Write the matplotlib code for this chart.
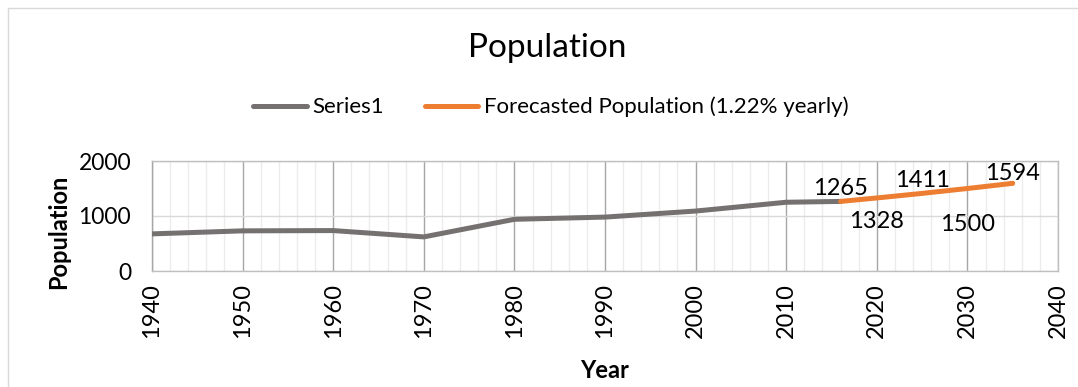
import matplotlib
matplotlib.use("Agg")
import matplotlib.pyplot as plt
from matplotlib.patches import Rectangle
from matplotlib.ticker import MultipleLocator

plt.rcParams['font.family'] = ['Lato', 'DejaVu Sans']

# Historical population
years = [1940, 1950, 1960, 1970, 1980, 1990, 2000, 2010, 2016]
population = [675, 730, 735, 620, 940, 980, 1090, 1250, 1265]

# Forecast at 1.22% yearly growth
forecast_years = [2016, 2020, 2025, 2030, 2035]
forecast_values = [1265, 1328, 1411, 1500, 1594]

x_ticks = [1940, 1950, 1960, 1970, 1980, 1990, 2000, 2010, 2020, 2030, 2040]
y_ticks = [0, 1000, 2000]

# vertical offsets (points) of each data label centre from its point
label_dy = [9, -17, 9, -26, 7]

W, H = 1078, 387
fig = plt.figure(figsize=(W / 100, H / 100), dpi=100)
ax = fig.add_axes([152 / W, 1 - 271 / H, (1058 - 152) / W, (271 - 161) / H])

# outer chart border
fig.patches.append(Rectangle((7.5 / W, -0.1), 1.2, 1 - 8 / H + 0.1,
                             transform=fig.transFigure, fill=False,
                             edgecolor='#d9d9d9', linewidth=1.0))

gray = '#767171'
orange = '#ED7D31'

ax.plot(years, population, color=gray, linewidth=3.6, solid_capstyle='round',
        label='Series1', zorder=3)
ax.plot(forecast_years, forecast_values, color=orange, linewidth=3.6,
        solid_capstyle='round', label='Forecasted Population (1.22% yearly)', zorder=4)

for x, v, dy in zip(forecast_years, forecast_values, label_dy):
    ax.annotate(str(v), (x, v), xytext=(0, dy), textcoords='offset points',
                ha='center', va='center', fontsize=17, color='black', zorder=5)

ax.set_xlim(1940, 2040)
ax.set_ylim(0, 2000)
ax.set_xticks(x_ticks)
ax.set_xticklabels([str(t) for t in x_ticks], rotation=90, fontsize=17)
ax.set_yticks(y_ticks)
ax.set_yticklabels([str(t) for t in y_ticks], fontsize=16.5)
ax.xaxis.set_minor_locator(MultipleLocator(2))
ax.tick_params(axis='x', which='both', length=0, pad=9)
ax.tick_params(axis='y', which='both', length=0, pad=15)

ax.grid(which='major', axis='x', color='#a6a6a6', linewidth=1.0, zorder=1)
ax.grid(which='minor', axis='x', color='#ececec', linewidth=1.0, zorder=0)
ax.grid(which='major', axis='y', color='#d9d9d9', linewidth=1.0, zorder=1)
for s in ax.spines.values():
    s.set_color('#bfbfbf')
    s.set_linewidth(1.0)
ax.spines['left'].set_color('#a6a6a6')

fig.text(605 / W, 1 - 370 / H, 'Year', ha='center', va='center',
         fontsize=17, fontweight='bold')
fig.text(59 / W, 1 - 232 / H, 'Population', ha='center', va='center',
         rotation=90, fontsize=17, fontweight='bold')

fig.text(547 / W, 1 - 48 / H, 'Population', ha='center', va='center', fontsize=24)
fig.legend(loc='center', bbox_to_anchor=(551 / W, 1 - 107 / H), ncol=2, frameon=False,
           fontsize=16, handlelength=2.4, columnspacing=1.85, handletextpad=0.25)

fig.savefig('out.png', dpi=100)
